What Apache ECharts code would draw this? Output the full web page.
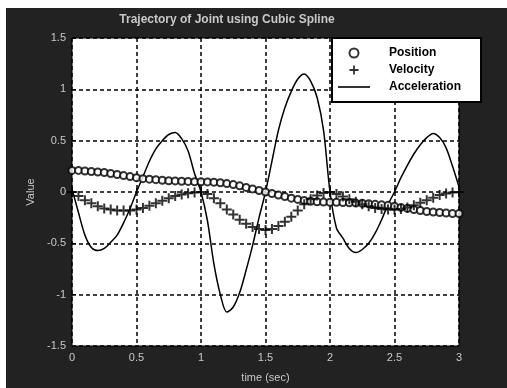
<!DOCTYPE html>
<html>
<head>
<meta charset="utf-8">
<script src="https://cdn.jsdelivr.net/npm/echarts@6/dist/echarts.min.js"></script>
<style>
  html, body { margin: 0; padding: 0; background: #fff; }
  #chart { width: 507px; height: 388px; }
</style>
</head>
<body>
<div id="chart"></div>
<script>
// time samples (sec)
const times = [
  0, 0.05, 0.1, 0.15, 0.2, 0.25, 0.3, 0.35, 0.4, 0.45,
  0.5, 0.55, 0.6, 0.65, 0.7, 0.75, 0.8, 0.85, 0.9, 0.95,
  1, 1.05, 1.1, 1.15, 1.2, 1.25, 1.3, 1.35, 1.4, 1.45,
  1.5, 1.55, 1.6, 1.65, 1.7, 1.75, 1.8, 1.85, 1.9, 1.95,
  2, 2.05, 2.1, 2.15, 2.2, 2.25, 2.3, 2.35, 2.4, 2.45,
  2.5, 2.55, 2.6, 2.65, 2.7, 2.75, 2.8, 2.85, 2.9, 2.95,
  3
];

const position = [
  0.21, 0.21, 0.205, 0.2, 0.195, 0.19, 0.18, 0.17, 0.16, 0.15,
  0.14, 0.13, 0.125, 0.12, 0.115, 0.11, 0.108, 0.105, 0.103, 0.1,
  0.1, 0.098, 0.095, 0.09, 0.082, 0.072, 0.06, 0.045, 0.03, 0.015,
  0, -0.015, -0.03, -0.045, -0.06, -0.072, -0.082, -0.09, -0.095, -0.098,
  -0.1, -0.1, -0.103, -0.105, -0.108, -0.11, -0.115, -0.12, -0.125, -0.13,
  -0.14, -0.15, -0.16, -0.17, -0.18, -0.19, -0.195, -0.2, -0.205, -0.21,
  -0.21
];

const velocity = [
  0, -0.04, -0.08, -0.11, -0.14, -0.16, -0.17, -0.18, -0.18, -0.18,
  -0.17, -0.155, -0.135, -0.11, -0.085, -0.06, -0.04, -0.025, -0.012, -0.004,
  0, -0.02, -0.06, -0.11, -0.17, -0.22, -0.27, -0.31, -0.34, -0.36,
  -0.37, -0.36, -0.33, -0.29, -0.24, -0.18, -0.12, -0.07, -0.035, -0.01,
  0, -0.02, -0.045, -0.07, -0.095, -0.12, -0.14, -0.155, -0.165, -0.17,
  -0.17, -0.165, -0.15, -0.13, -0.105, -0.08, -0.055, -0.03, -0.015, -0.005,
  0
];

const acceleration = [
  0.03, -0.2, -0.42, -0.54, -0.57, -0.55, -0.49, -0.42, -0.3, -0.16,
  0, 0.15, 0.3, 0.42, 0.5, 0.56, 0.58, 0.52, 0.4, 0.18,
  0, -0.28, -0.7, -1.0, -1.17, -1.12, -0.98, -0.76, -0.52, -0.25,
  0, 0.3, 0.6, 0.82, 0.98, 1.1, 1.15, 1.08, 0.92, 0.6,
  0, -0.35, -0.45, -0.55, -0.59, -0.56, -0.5, -0.4, -0.27, -0.12,
  0, 0.14, 0.26, 0.37, 0.46, 0.53, 0.57, 0.53, 0.43, 0.25,
  0.05
];

const xTicks = [0, 0.5, 1, 1.5, 2, 2.5, 3];
const yTicks = [-1.5, -1, -0.5, 0, 0.5, 1, 1.5];

const pairs = (values) => times.map((t, i) => [t, values[i]]);

const plusPath = "path://M4,0 H6 V4 H10 V6 H6 V10 H4 V6 H0 V4 H4 Z";
const linePath = "path://M0,0 H32 V1.6 H0 Z";
const labelColor = "#c8c8c8";

const chart = echarts.init(document.getElementById("chart"), null, { renderer: "canvas" });

chart.setOption({
  backgroundColor: "#fff",
  animation: false,
  graphic: [
    {
      type: "rect",
      silent: true,
      z: -10,
      shape: { x: 6, y: 8, width: 501, height: 380 },
      style: { fill: "#222" },
    },
  ],
  title: {
    text: "Trajectory of Joint using Cubic Spline",
    left: 222,
    top: 9,
    textAlign: "center",
    textStyle: { color: labelColor, fontSize: 12, fontWeight: "bold", fontFamily: "Liberation Sans" },
  },
  legend: {
    orient: "vertical",
    left: 332,
    top: 38,
    padding: [9, 20, 9, 6],
    itemGap: 5,
    itemWidth: 32,
    itemHeight: 9,
    backgroundColor: "#fff",
    borderColor: "#000",
    borderWidth: 2,
    borderRadius: 0,
    selectedMode: false,
    textStyle: {
      color: "#000",
      fontSize: 12,
      fontWeight: "bold",
      fontFamily: "Liberation Sans",
      padding: [0, 0, 0, 14],
    },
    data: [
      { name: "Position", icon: "emptyCircle", itemStyle: { color: "#000", borderColor: "#000", borderWidth: 2 } },
      { name: "Velocity", icon: plusPath, itemStyle: { color: "#000", borderWidth: 0 } },
      { name: "Acceleration", icon: linePath, itemStyle: { color: "#000", borderWidth: 0 } },
    ],
  },
  grid: {
    left: 72,
    top: 38,
    right: 48,
    bottom: 40,
    show: true,
    backgroundColor: "#fff",
    borderColor: "#000",
    borderWidth: 1,
  },
  xAxis: {
    type: "value",
    min: xTicks[0],
    max: xTicks[xTicks.length - 1],
    interval: 0.5,
    name: "time (sec)",
    nameLocation: "middle",
    nameGap: 26,
    nameTextStyle: { color: labelColor, fontSize: 11, fontFamily: "Liberation Sans" },
    axisLine: { show: false },
    axisTick: { show: true, inside: true, length: 4, lineStyle: { color: "#000" } },
    axisLabel: { color: labelColor, fontSize: 11, fontFamily: "Liberation Sans", margin: 6 },
    splitLine: { show: true, lineStyle: { color: "#000", width: 1.5, type: [4, 3] } },
  },
  yAxis: {
    type: "value",
    min: yTicks[0],
    max: yTicks[yTicks.length - 1],
    interval: 0.5,
    name: "Value",
    nameLocation: "middle",
    nameGap: 28,
    nameTextStyle: { color: labelColor, fontSize: 11, fontFamily: "Liberation Sans" },
    axisLine: { show: false },
    axisTick: { show: true, inside: true, length: 4, lineStyle: { color: "#000" } },
    axisLabel: { color: labelColor, fontSize: 11, fontFamily: "Liberation Sans", margin: 6 },
    splitLine: { show: true, lineStyle: { color: "#000", width: 1.5, type: [4, 3] } },
  },
  series: [
    {
      name: "Position",
      type: "scatter",
      symbol: "emptyCircle",
      symbolSize: 7,
      itemStyle: { color: "#000", borderColor: "#000", borderWidth: 2 },
      data: pairs(position),
      z: 3,
    },
    {
      name: "Velocity",
      type: "scatter",
      symbol: plusPath,
      symbolSize: 10,
      itemStyle: { color: "#000", borderWidth: 0 },
      data: pairs(velocity),
      z: 3,
    },
    {
      name: "Acceleration",
      type: "line",
      smooth: 0.3,
      showSymbol: false,
      symbol: "none",
      lineStyle: { color: "#000", width: 1.5 },
      itemStyle: { color: "#000" },
      data: pairs(acceleration),
      z: 2,
    },
  ],
});
</script>
</body>
</html>
